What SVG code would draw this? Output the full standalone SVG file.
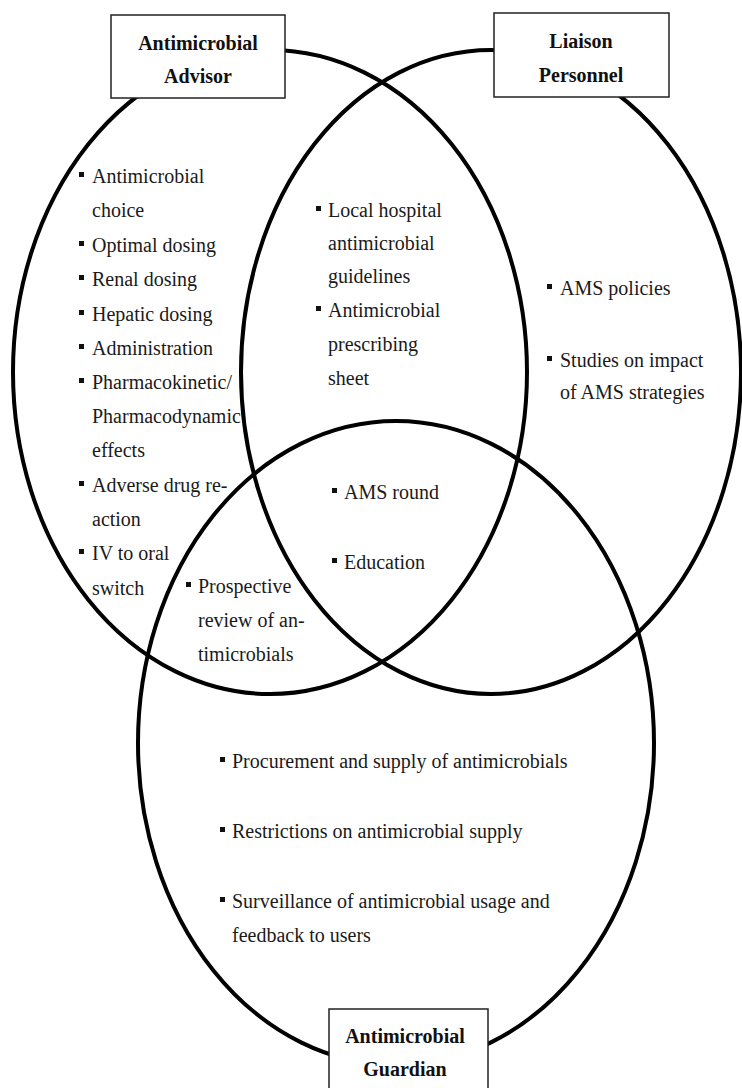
<svg xmlns="http://www.w3.org/2000/svg" width="742" height="1088" viewBox="0 0 742 1088">
<style>
.bg{fill:#ffffff}
.ring{fill:none;stroke:#000;stroke-width:4}
.box{fill:#fff;stroke:#222;stroke-width:1.5}
.t{font-family:"Liberation Serif","Times New Roman",serif;font-size:20px;fill:#1a1a1a}
.b{font-family:"Liberation Serif","Times New Roman",serif;font-size:20px;font-weight:bold;fill:#111;text-anchor:middle}
.bul{fill:#111}
</style>
<rect class="bg" x="0" y="0" width="742" height="1088"/>
<g id="connectors">
<ellipse class="ring" cx="270" cy="372" rx="257" ry="322"/>
<ellipse class="ring" cx="491" cy="372" rx="250" ry="322"/>
<ellipse class="ring" cx="396" cy="743" rx="258" ry="322"/>
</g>
<g id="node-advisor">
<rect class="box" x="111" y="15" width="174" height="83"/>
<text class="b" x="198" y="50">Antimicrobial</text>
<text class="b" x="198" y="83">Advisor</text>
</g>
<g id="node-liaison">
<rect class="box" x="494" y="13" width="175" height="84"/>
<text class="b" x="581" y="48">Liaison</text>
<text class="b" x="581" y="82">Personnel</text>
</g>
<g id="node-guardian">
<rect class="box" x="329" y="1009" width="159" height="90"/>
<text class="b" x="405" y="1043">Antimicrobial</text>
<text class="b" x="405" y="1076">Guardian</text>
</g>
<g id="list-advisor">
<rect class="bul" x="79" y="172" width="5" height="5"/>
<text class="t" x="92" y="183">Antimicrobial</text>
<text class="t" x="92" y="217">choice</text>
<rect class="bul" x="79" y="241" width="5" height="5"/>
<text class="t" x="92" y="252">Optimal dosing</text>
<rect class="bul" x="79" y="275" width="5" height="5"/>
<text class="t" x="92" y="286">Renal dosing</text>
<rect class="bul" x="79" y="310" width="5" height="5"/>
<text class="t" x="92" y="321">Hepatic dosing</text>
<rect class="bul" x="79" y="344" width="5" height="5"/>
<text class="t" x="92" y="355">Administration</text>
<rect class="bul" x="79" y="378" width="5" height="5"/>
<text class="t" x="92" y="389">Pharmacokinetic/</text>
<text class="t" x="92" y="423">Pharmacodynamic</text>
<text class="t" x="92" y="457">effects</text>
<rect class="bul" x="79" y="481" width="5" height="5"/>
<text class="t" x="92" y="492">Adverse drug re-</text>
<text class="t" x="92" y="526">action</text>
<rect class="bul" x="79" y="549" width="5" height="5"/>
<text class="t" x="92" y="560">IV to oral</text>
<text class="t" x="92" y="595">switch</text>
</g>
<g id="list-advisor-liaison">
<rect class="bul" x="316" y="206" width="5" height="5"/>
<text class="t" x="328" y="217">Local hospital</text>
<text class="t" x="328" y="250">antimicrobial</text>
<text class="t" x="328" y="283">guidelines</text>
<rect class="bul" x="316" y="306" width="5" height="5"/>
<text class="t" x="328" y="317">Antimicrobial</text>
<text class="t" x="328" y="351">prescribing</text>
<text class="t" x="328" y="385">sheet</text>
</g>
<g id="list-liaison">
<rect class="bul" x="547" y="284" width="5" height="5"/>
<text class="t" x="560" y="295">AMS policies</text>
<rect class="bul" x="547" y="356" width="5" height="5"/>
<text class="t" x="560" y="367">Studies on impact</text>
<text class="t" x="560" y="399">of AMS strategies</text>
</g>
<g id="list-all">
<rect class="bul" x="332" y="488" width="5" height="5"/>
<text class="t" x="344" y="499">AMS round</text>
<rect class="bul" x="332" y="558" width="5" height="5"/>
<text class="t" x="344" y="569">Education</text>
</g>
<g id="list-advisor-guardian">
<rect class="bul" x="186" y="582" width="5" height="5"/>
<text class="t" x="198" y="593">Prospective</text>
<text class="t" x="198" y="627">review of an-</text>
<text class="t" x="198" y="661">timicrobials</text>
</g>
<g id="list-guardian">
<rect class="bul" x="220" y="757" width="5" height="5"/>
<text class="t" x="232" y="768">Procurement and supply of antimicrobials</text>
<rect class="bul" x="220" y="827" width="5" height="5"/>
<text class="t" x="232" y="838">Restrictions on antimicrobial supply</text>
<rect class="bul" x="220" y="897" width="5" height="5"/>
<text class="t" x="232" y="908">Surveillance of antimicrobial usage and</text>
<text class="t" x="232" y="942">feedback to users</text>
</g>
</svg>
